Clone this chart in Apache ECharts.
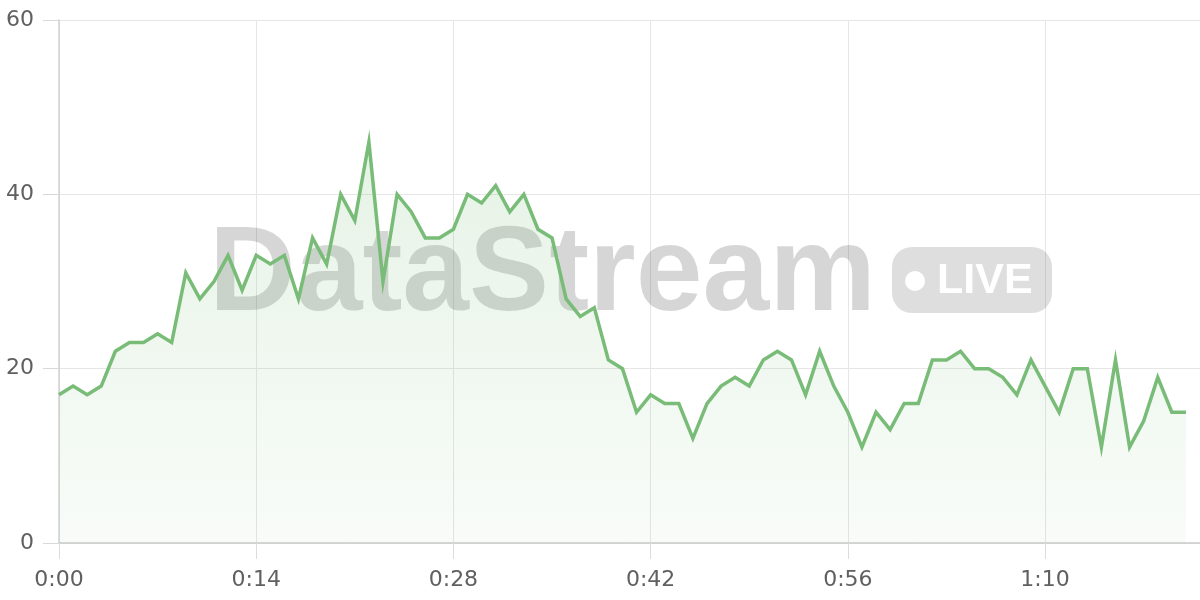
<!DOCTYPE html>
<html>
<head>
<meta charset="utf-8">
<script src="https://cdn.jsdelivr.net/npm/echarts@6/dist/echarts.min.js"></script>
<style>
html,body{margin:0;padding:0;background:#fff;}
#chart{width:1200px;height:600px;}
</style>
</head>
<body>
<div id="chart"></div>
<script>
// Values per second (0:00 .. 1:20)
const values = [17,18,17,18,22,23,23,24,23,31,28,30,33,29,33,32,33,28,35,32,
                40,37,46,30,40,38,35,35,36,40,39,41,38,40,36,35,28,26,27,21,
                20,15,17,16,16,12,16,18,19,18,21,22,21,17,22,18,15,11,15,13,
                16,16,21,21,22,20,20,19,17,21,18,15,20,20,11,21,11,14,19,15,15];
const xTickSeconds = [0,14,28,42,56,70];
const xTickLabels = ['0:00','0:14','0:28','0:42','0:56','1:10'];
const yTicks = [0,20,40,60];
const xMax = 81;
const watermarkText = 'DataStream';
const badgeText = 'LIVE';

const seriesData = values.map((v, i) => [i, v]);
const labelFont = '"DejaVu Sans", sans-serif';

const chart = echarts.init(document.getElementById('chart'), null, {renderer: 'canvas'});
chart.setOption({
  animation: false,
  backgroundColor: '#ffffff',
  grid: {left: 59, right: 0, top: 20, bottom: 57, containLabel: false},
  xAxis: {
    type: 'value',
    min: 0,
    max: xMax,
    interval: 14,
    axisLine: {show: true, lineStyle: {color: '#cccccc', width: 1.5}},
    axisTick: {show: true, length: 16, lineStyle: {color: '#dcdcdc', width: 1}},
    splitLine: {show: true, lineStyle: {color: '#e6e6e6', width: 1}},
    axisLabel: {
      showMaxLabel: false,
      margin: 26,
      color: '#606060',
      fontSize: 22,
      fontFamily: labelFont,
      formatter: function (v) {
        const idx = xTickSeconds.indexOf(v);
        return idx >= 0 ? xTickLabels[idx] : '';
      }
    }
  },
  yAxis: {
    type: 'value',
    position: 'left',
    min: yTicks[0],
    max: yTicks[yTicks.length - 1],
    interval: 20,
    axisLine: {show: true, onZero: false, lineStyle: {color: '#d0d0d0', width: 1.5}},
    axisTick: {show: true, interval: 0, inside: false, length: 16, lineStyle: {color: '#d8d8d8', width: 1}},
    splitLine: {show: true, lineStyle: {color: '#e6e6e6', width: 1}},
    axisLabel: {margin: 25, color: '#606060', fontSize: 22, fontFamily: labelFont}
  },
  graphic: [
    {
      type: 'text', z: 1,
      style: {
        x: 209, y: 277, text: watermarkText,
        font: 'bold 120px "Liberation Sans", Arial, sans-serif',
        fill: 'rgba(0,0,0,0.16)',
        textAlign: 'left', textVerticalAlign: 'middle'
      }
    },
    {
      type: 'rect', z: 1,
      shape: {x: 892, y: 247, width: 160, height: 66, r: 20},
      style: {fill: 'rgba(0,0,0,0.13)'}
    },
    {
      type: 'circle', z: 1,
      shape: {cx: 915, cy: 281, r: 10},
      style: {fill: '#ffffff'}
    },
    {
      type: 'text', z: 1,
      style: {
        x: 937, y: 281, text: badgeText,
        font: 'bold 43px "Liberation Sans", Arial, sans-serif',
        fill: '#ffffff',
        textAlign: 'left', textVerticalAlign: 'middle'
      }
    }
  ],
  series: [{
    type: 'line',
    data: seriesData,
    showSymbol: false,
    symbol: 'none',
    z: 3,
    lineStyle: {color: '#78bc78', width: 3.5, join: 'miter', miterLimit: 10},
    areaStyle: {
      color: new echarts.graphic.LinearGradient(0, 0, 0, 1, [
        {offset: 0, color: 'rgba(120,188,120,0.26)'},
        {offset: 1, color: 'rgba(120,188,120,0.07)'}
      ])
    }
  }]
});
</script>
</body>
</html>
